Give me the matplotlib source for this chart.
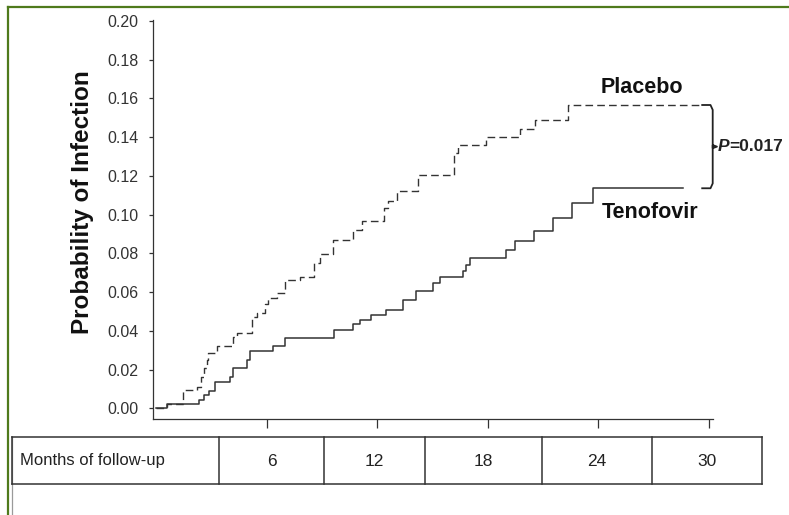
import numpy as np
import matplotlib.pyplot as plt

plt.rcParams.update({'font.size': 11})
sans = ['Liberation Sans', 'DejaVu Sans']
ink = '#222222'

# step points (months, cumulative probability)
teno_t = [0, 0.58, 2.35, 2.6, 2.86, 3.2, 4.0, 4.2, 4.92, 5.1, 6.36, 7.0, 9.67, 10.67, 11.1,
          11.65, 12.48, 13.39, 14.14, 15.05, 15.41, 16.64, 16.82, 17.04, 19.0, 19.48, 20.53,
          21.54, 22.56, 23.7, 28.6]
teno_p = [0, 0.0024, 0.0043, 0.0067, 0.0088, 0.0134, 0.016, 0.0207, 0.025, 0.0296, 0.0319,
          0.0364, 0.0405, 0.0435, 0.0457, 0.048, 0.051, 0.056, 0.0603, 0.0647, 0.0676, 0.0707,
          0.074, 0.0775, 0.0819, 0.0866, 0.0917, 0.098, 0.1058, 0.1136, 0.1136]

plac_t = [0, 0.58, 1.45, 2.2, 2.45, 2.6, 2.75, 2.85, 3.3, 4.2, 4.4, 5.19, 5.46, 5.9, 6.1,
          6.55, 7.0, 7.8, 8.6, 8.9, 9.62, 10.7, 11.16, 12.4, 12.6, 13.1, 14.23, 16.17, 16.4,
          17.94, 19.75, 20.56, 22.37, 29.7]
plac_p = [0, 0.0024, 0.0093, 0.0112, 0.016, 0.021, 0.025, 0.0285, 0.0319, 0.037, 0.039,
          0.047, 0.049, 0.054, 0.057, 0.0595, 0.066, 0.068, 0.075, 0.0795, 0.087, 0.092,
          0.0965, 0.1035, 0.107, 0.112, 0.1207, 0.132, 0.136, 0.140, 0.144, 0.149, 0.1566,
          0.1566]

month_ticks = [6, 12, 18, 24, 30]
prob_ticks = np.arange(0, 0.201, 0.02)
p_value = '0.017'

fig = plt.figure(figsize=(7.89, 5.15), dpi=100)

# layout layer in pixel units (frame + table grid)
bg = fig.add_axes([0, 0, 1, 1], zorder=0)
bg.set_xlim(0, 789)
bg.set_ylim(515, 0)
bg.axis('off')
green = '#4f7a1c'
bg.plot([8, 8], [7, 515], color=green, lw=1.6)
bg.plot([8, 789], [7, 7], color=green, lw=1.6)
bg.plot([12, 12], [437, 515], color='#9a9a9a', lw=0.9)

tab_top, tab_bot = 437.3, 484.3
cols = [11.7, 219, 324.3, 425, 541.7, 651.7, 762.3]
bg.plot([cols[0], cols[-1]], [tab_top, tab_top], color='#333333', lw=1.1)
bg.plot([cols[0], cols[-1]], [tab_bot, tab_bot], color='#333333', lw=1.1)
for c in cols:
    bg.plot([c, c], [tab_top, tab_bot], color='#333333', lw=1.1)
bg.text(20, 461, 'Months of follow-up', ha='left', va='center', fontsize=12,
        family=sans, color=ink)
for i, m in enumerate(month_ticks):
    bg.text((cols[i + 1] + cols[i + 2]) / 2, 461, str(m), ha='center', va='center',
            fontsize=12.5, family=sans, color=ink)
bg.text(83, 202, 'Probability of Infection', rotation=90, ha='center', va='center',
        fontsize=17.5, fontweight='bold', family=sans, color='#111111')

# main plot
ax = fig.add_axes([0.1935, 0.1858, 0.7105, 0.7754], zorder=1)
ax.patch.set_alpha(0)
ax.step(teno_t, teno_p, where='post', color='#333333', lw=1.1)
ax.step(plac_t, plac_p, where='post', color='#333333', lw=1.0, linestyle=(0, (5.5, 3)))

ax.set_xlim(-0.18, 30.25)
ax.set_ylim(-0.0057, 0.2005)
ax.set_xticks(month_ticks)
ax.set_xticklabels([])
ax.set_yticks(prob_ticks)
ax.set_yticklabels(['%.2f' % v for v in prob_ticks], family=sans, fontsize=11.5, color=ink)
ax.tick_params(axis='y', length=3, width=0.9, pad=7, colors='#333333')
ax.tick_params(axis='x', length=6.5, width=0.9, colors='#333333')
for s in ['top', 'right']:
    ax.spines[s].set_visible(False)
for s in ['left', 'bottom']:
    ax.spines[s].set_linewidth(0.9)
    ax.spines[s].set_color('#333333')

# bracket between final values
top = plac_p[-1]
bot = teno_p[-1]
mid = (top + bot) / 2
bx = [29.65, 30.1, 30.22, 30.22, 30.45, 30.22, 30.22, 30.1, 29.65]
by = [top, top, top - 0.0025, mid - 0.0008, mid, mid + 0.0008, bot + 0.0025, bot, bot]
ax.plot(bx, by, color='#222222', lw=1.3, clip_on=False)

t1 = ax.text(30.5, mid, 'P', ha='left', va='center', fontsize=12.5, fontweight='bold',
             style='italic', family=sans, color=ink)
ax.annotate('=' + p_value, xy=(1, 0.5), xycoords=t1, ha='left', va='center',
            fontsize=12.5, fontweight='bold', family=sans, color=ink)

ax.text(26.4, 0.1657, 'Placebo', ha='center', va='center', fontsize=15.5, fontweight='bold',
        family=sans, color='#111111')
ax.text(26.8, 0.101, 'Tenofovir', ha='center', va='center', fontsize=15.5, fontweight='bold',
        family=sans, color='#111111')

fig.savefig('out.png', dpi=100)
